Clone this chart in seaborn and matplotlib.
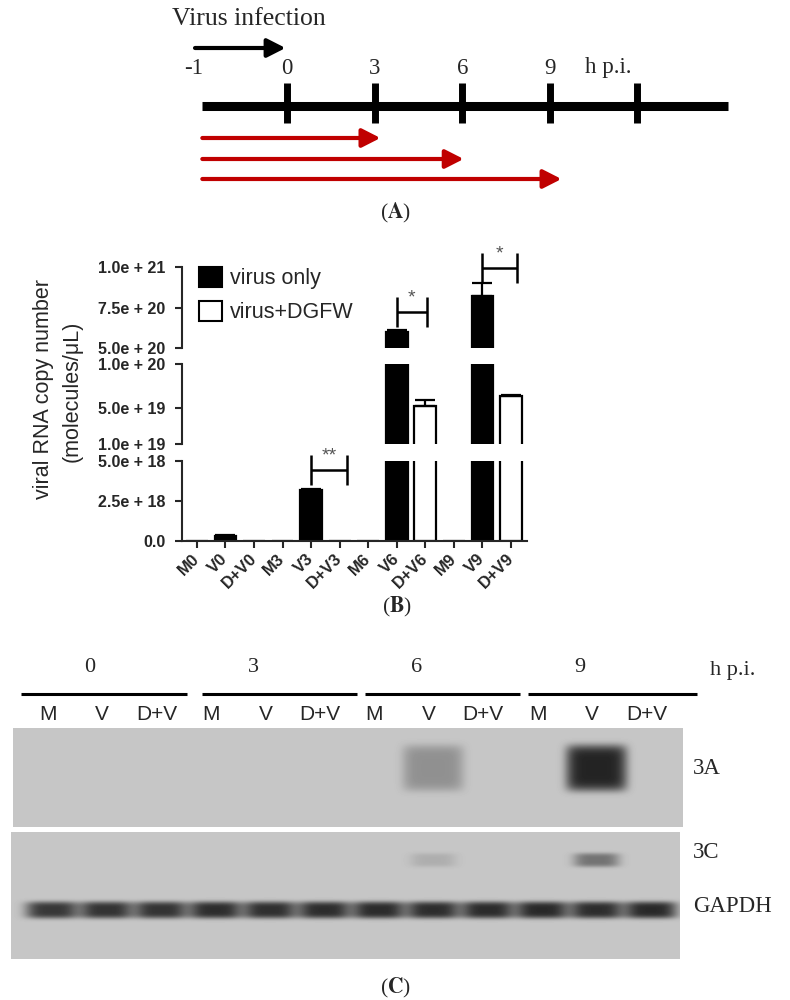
import numpy as np
import pandas as pd
import seaborn as sns
import matplotlib.pyplot as plt
from matplotlib.patches import Patch

sns.set_style('ticks')
plt.rcParams['font.family'] = ['Liberation Sans', 'DejaVu Sans']
plt.rcParams['mathtext.fontset'] = 'stix'
SERIF = 'Liberation Serif'

# ---- (A) schematic time line (schematic positions, in hours) ----
hour_ticks = [0, 3, 6, 9, 12]
hour_labels = ['-1', '0', '3', '6', '9']
hour_label_pos = [-3.2, 0, 3, 6, 9]
timeline_span = [-2.9, 15.1]
infection_span = [-3.15, -0.05]
treat_start = -2.9
treat_ends = [3.2, 6.05, 9.4]

# ---- (B) viral RNA copy number ----
samples = ['M0', 'V0', 'D+V0', 'M3', 'V3', 'D+V3', 'M6', 'V6', 'D+V6', 'M9', 'V9', 'D+V9']
groups = ['mock', 'virus only', 'virus+DGFW'] * 4
copies = [0, 3.3e17, 0, 0, 3.2e18, 0, 0, 6.0e20, 5.3e19, 0, 8.2e20, 6.4e19]
sem = [0, 4e16, 0, 0, 5e16, 0, 0, 1e19, 6.4e18, 0, 7.8e19, 1e18]
seg_limits = [(0, 5e18), (1e19, 1e20), (5e20, 1e21)]
seg_ticks = [[0, 2.5e18, 5e18], [1e19, 5e19, 1e20], [5e20, 7.5e20, 1e21]]
seg_ticklabels = [['0.0', '2.5e + 18', '5.0e + 18'],
                  ['1.0e + 19', '5.0e + 19', '1.0e + 20'],
                  ['5.0e + 20', '7.5e + 20', '1.0e + 21']]
sig_from = [4, 7, 10]
sig_to = [5.25, 8.05, 11.2]
sig_height = [4.42e18, 7.24e20, 9.9e20]
sig_marks = ['**', '*', '*']

# ---- (C) western blot ----
hpi_groups = ['0', '3', '6', '9']
lanes = ['M', 'V', 'D+V'] * 4
band_3a = [0, 0, 0, 0, 0, 0, 0, 0.27, 0, 0, 0.82, 0]
band_3c = [0, 0, 0, 0, 0, 0, 0, 0.12, 0, 0, 0.42, 0]
band_gapdh = [0.72, 0.74, 0.74, 0.77, 0.76, 0.77, 0.78, 0.77, 0.78, 0.79, 0.77, 0.79]

W, H = 790, 1000
fig = plt.figure(figsize=(7.9, 10), dpi=100)


def box(x0, y0, x1, y1):
    # pixel box (top-left origin) -> figure fraction
    return [x0 / W, 1 - y1 / H, (x1 - x0) / W, (y1 - y0) / H]


def arrow(ax, x0, x1, y, color):
    ax.annotate('', xy=(x1, y), xytext=(x0, y),
                arrowprops=dict(arrowstyle='-|>,head_length=0.55,head_width=0.28',
                                color=color, lw=3, shrinkA=0, shrinkB=0,
                                mutation_scale=20))


# panel A
ax_a = fig.add_axes(box(0, 0, W, 230))
ax_a.set_xlim((0 - 287) / 29.2, (W - 287) / 29.2)
ax_a.set_ylim(230, 0)
ax_a.axis('off')
ax_a.plot(timeline_span, [106, 106], color='black', lw=6.5, solid_capstyle='butt')
ax_a.vlines(hour_ticks, 83, 123, color='black', lw=5)
for x, t in zip(hour_label_pos, hour_labels):
    ax_a.text(x, 68, t, ha='center', va='center', fontsize=16.5, family=SERIF)
ax_a.text(11.0, 68, 'h p.i.', ha='center', va='center', fontsize=16.5, family=SERIF)
ax_a.text(-3.95, 19, 'Virus infection', ha='left', va='center', fontsize=18.5, family=SERIF)
arrow(ax_a, infection_span[0], infection_span[1], 48, 'black')
for y, end in zip([138, 159, 179], treat_ends):
    arrow(ax_a, treat_start, end, y, '#c00000')
fig.text(395 / W, 1 - 213 / H, r'($\mathbf{A}$)', ha='center', va='center',
         fontsize=15.5, family=SERIF)

# panel B: broken y axis made of three stacked axes
df = pd.DataFrame({'sample': samples, 'group': groups, 'copies': copies})
palette = {'mock': 'white', 'virus only': 'black', 'virus+DGFW': 'white'}
xpos = np.arange(len(samples))
err = np.array(sem)
has_err = err > 0
seg_boxes = [(460.7, 541), (364, 444), (266.7, 348.3)]
seg_axes = []
for k, ((lo, hi), (ytop, ybot)) in enumerate(zip(seg_limits, seg_boxes)):
    ax = fig.add_axes(box(182, ytop, 527, ybot))
    sns.barplot(data=df, x='sample', y='copies', hue='group', order=samples,
                palette=palette, dodge=False, width=0.76, saturation=1,
                edgecolor='black', linewidth=1.6, legend=False, ax=ax)
    ax.errorbar(xpos[has_err], np.array(copies)[has_err],
                yerr=[np.zeros(has_err.sum()), err[has_err]],
                fmt='none', ecolor='black', elinewidth=1.6, capsize=7, capthick=1.6)
    ax.set_ylim(lo, hi)
    ax.set_xlim(-0.52, 11.56)
    ax.set_xlabel('')
    ax.set_ylabel('')
    ax.set_yticks(seg_ticks[k])
    ax.set_yticklabels(seg_ticklabels[k], fontweight='bold', fontsize=11.5)
    ax.tick_params(axis='y', length=5, width=1.5, pad=7)
    for s in ['top', 'right']:
        ax.spines[s].set_visible(False)
    ax.spines['left'].set_linewidth(1.5)
    ax.patch.set_alpha(0)
    if k == 0:
        ax.spines['bottom'].set_linewidth(1.5)
        ax.set_xticks(xpos)
        ax.set_xticklabels(samples, rotation=45, ha='right', va='center',
                           rotation_mode='anchor', fontweight='bold', fontsize=12)
        ax.tick_params(axis='x', length=5, width=1.5, pad=6)
    else:
        ax.spines['bottom'].set_visible(False)
        ax.tick_params(axis='x', bottom=False, labelbottom=False)
    seg_axes.append(ax)

for a, b, y, m in zip(sig_from, sig_to, sig_height, sig_marks):
    k = [i for i, (lo, hi) in enumerate(seg_limits) if lo <= y <= hi][0]
    ax = seg_axes[k]
    eb = ax.errorbar((a + b) / 2, y, xerr=(b - a) / 2, fmt='none', ecolor='black',
                     elinewidth=1.8, capsize=11, capthick=1.8)
    _, caps, bars = eb.lines
    for art in list(caps) + list(bars):
        art.set_clip_on(False)
    ax.annotate(m, xy=((a + b) / 2, y), xytext=(0, 4), textcoords='offset points',
                ha='center', va='bottom', fontsize=14, color='#555555',
                annotation_clip=False)

handles = [Patch(facecolor='black', edgecolor='black', lw=1.5),
           Patch(facecolor='white', edgecolor='black', lw=1.5)]
seg_axes[2].legend(handles, ['virus only', 'virus+DGFW'], loc='upper left',
                   bbox_to_anchor=((199 - 182) / 345, 1.0), frameon=False,
                   fontsize=15.5, handlelength=1.05, handleheight=1.05,
                   handletextpad=0.4, labelspacing=0.55, borderpad=0, borderaxespad=0)

fig.text(44 / W, 1 - 389 / H, 'viral RNA copy number', rotation=90,
         ha='center', va='center', fontsize=15.5)
fig.text(72 / W, 1 - 391 / H, '(molecules/μL)', rotation=90,
         ha='center', va='center', fontsize=15.5)
fig.text(397 / W, 1 - 607 / H, r'($\mathbf{B}$)', ha='center', va='center',
         fontsize=15.5, family=SERIF)

# panel C: blot drawn from band intensities per lane
lane_px0, lane_dx = 52, 54.45
ax_c = fig.add_axes(box(0, 640, W, H))


def render_blot(ax, x0, x1, y0, y1, rows):
    w, h = int(x1 - x0), int(y1 - y0)
    lx = (np.arange(w) + x0 + 0.5 - lane_px0) / lane_dx
    ly = np.arange(h) + y0 + 0.5
    dark = np.zeros((h, w))
    for intens, yc, hh, hw, p in rows:
        py = np.exp(-np.abs((ly - yc) / hh) ** p)
        for i, v in enumerate(intens):
            if v > 0:
                px = np.exp(-np.abs((lx - i) / hw) ** p)
                dark += v * np.outer(py, px)
    img = 0.775 * (1 - np.clip(dark, 0, 1))
    ax.imshow(img, cmap='gray', vmin=0, vmax=1, aspect='auto', interpolation='bilinear',
              extent=((x0 - lane_px0) / lane_dx, (x1 - lane_px0) / lane_dx, y1, y0))


render_blot(ax_c, 13, 683, 728, 827, [(band_3a, 768, 23, 0.56, 6)])
render_blot(ax_c, 11, 680, 832, 959, [(band_3c, 860, 7, 0.42, 4),
                                      (band_gapdh, 910, 8.5, 0.48, 4)])
ax_c.set_xlim((0 - lane_px0) / lane_dx, (W - lane_px0) / lane_dx)
ax_c.set_ylim(H, 640)
ax_c.axis('off')

for g, lab in enumerate(hpi_groups):
    start = -0.57 if g == 0 else 3 * g - 0.25
    end = 3 * g + (2.48 if g == 0 else 2.85 if g == 3 else 2.6)
    ax_c.hlines(694, start, end, color='black', lw=2.2)
    ax_c.text(3 * g + 0.7, 668, lab, ha='center', va='center', fontsize=16, family=SERIF)
ax_c.text(12.5, 670, 'h p.i.', ha='center', va='center', fontsize=16, family=SERIF)
for i, lab in enumerate(lanes):
    ax_c.text(i - 0.08, 715, lab, ha='center', va='center', fontsize=15)
for lab, y in zip(['3A', '3C', 'GAPDH'], [768, 853, 907]):
    ax_c.text((693 - lane_px0) / lane_dx, y, lab, ha='left', va='center',
              fontsize=16.5, family=SERIF)
fig.text(395 / W, 1 - 988 / H, r'($\mathbf{C}$)', ha='center', va='center',
         fontsize=15.5, family=SERIF)

fig.savefig('out.png', dpi=100)
